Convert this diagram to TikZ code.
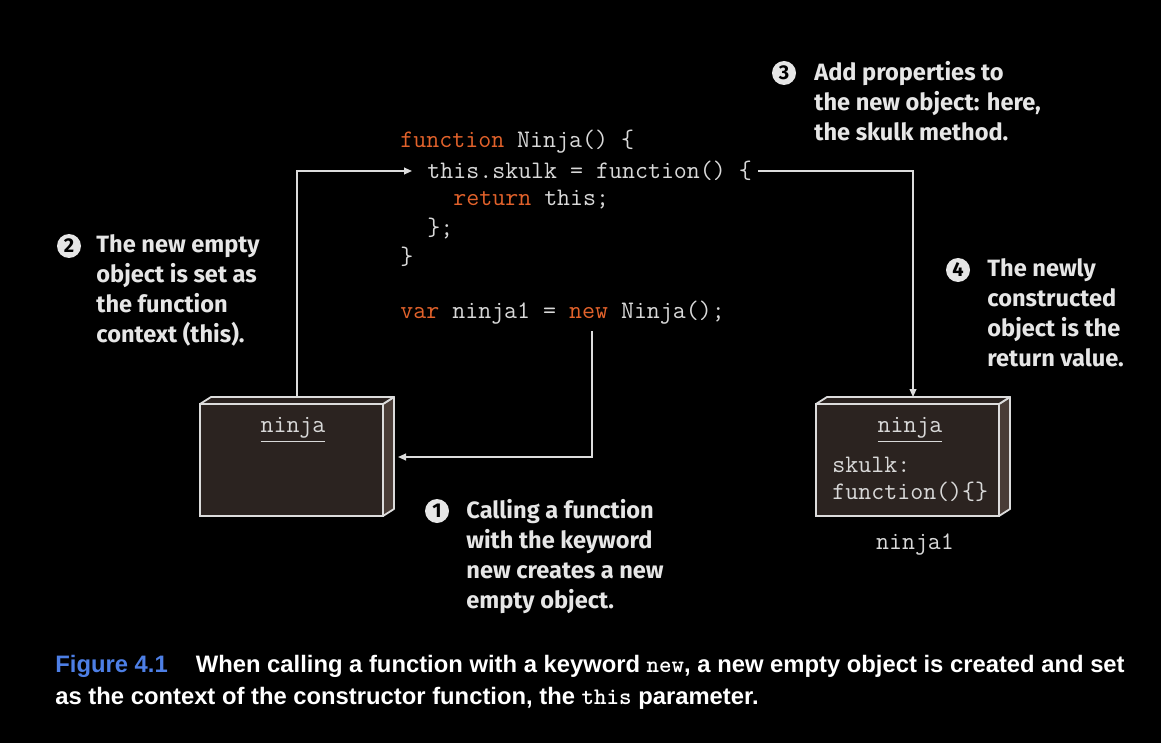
\documentclass[tikz,border=0pt]{standalone}
\usepackage{fontspec}
\usepackage{xcolor}
\usepackage{tikz}
\usetikzlibrary{arrows.meta, positioning, calc}
\newfontfamily\notefont{Fira Sans}
\newfontfamily\capfont{Liberation Sans}
\definecolor{ninjacode}{HTML}{D9D9D9}
\definecolor{ninjakey}{HTML}{E2622B}
\definecolor{ninjaface}{HTML}{2B2320}
\definecolor{ninjaside}{HTML}{4A3D37}
\definecolor{ninjaline}{HTML}{DCDCDC}
\definecolor{ninjanote}{HTML}{E6E6E6}
\definecolor{ninjablue}{HTML}{4D7FE6}
\newcommand{\kw}[1]{\textcolor{ninjakey}{#1}}

\begin{document}
\begin{tikzpicture}[x=0.5pt, y=-0.5pt,
    code/.style={anchor=west, inner sep=0pt, text=ninjacode, font=\ttfamily\fontsize{12.6}{15}\selectfont},
    objbox/.style={draw=ninjaline, fill=ninjaface, line width=0.9pt, minimum width=91.5pt, minimum height=56pt, inner sep=0pt, outer sep=0pt},
    face/.style={draw=ninjaline, line width=0.9pt, line join=round},
    badge/.style={circle, fill=ninjanote, minimum size=12pt, inner sep=0pt, font=\notefont\bfseries\fontsize{10}{10}\selectfont, text=black},
    note/.style={anchor=north west, inner sep=0pt, align=left, text=ninjanote, font=\notefont\bfseries\fontsize{11.8}{15}\selectfont},
    arrow/.style={-{Triangle[length=4pt, width=3.4pt]}, draw=ninjaline, line width=0.75pt}
]
    % Background and frame
    \fill[black] (0,0) rectangle (1161,743);
    \useasboundingbox (0,0) rectangle (1161,743);

    % Code
    \node[code] (l1) at (400,142) {\kw{function} Ninja() \{};
    \node[code] (l2) at (427,171) {this.skulk = function() \{};
    \node[code] (l3) at (453,200) {\kw{return} this;};
    \node[code] (l4) at (427,229) {\};};
    \node[code] (l5) at (400,257) {\}};
    \node[code] (l6) at (400,313) {\kw{var} ninja1 = \kw{new} Ninja();};
    \coordinate (newcall) at (592,331);

    % Objects
    \node[objbox] (objA) at (291.5,460) {};
    \node[objbox] (objB) at (907.5,460) {};
    \foreach \obj in {objA, objB} {
        \filldraw[face, fill=ninjaside] (\obj.north east) -- ++(11,-7) -- ([shift={(11,-7)}]\obj.south east) -- (\obj.south east) -- cycle;
        \filldraw[face, fill=ninjaface] (\obj.north west) -- ++(11,-7) -- ([shift={(11,-7)}]\obj.north east) -- (\obj.north east) -- cycle;
    }
    \node[code, anchor=center] (nameA) at (293,430) {\underline{ninja}};
    \node[code, anchor=center] (nameB) at (910,430) {\underline{ninja}};
    \node[code] (propB) at (832,465) {skulk:};
    \node[code] (funB) at (832,492) {function()\{\}};
    \node[code, anchor=center] (varB) at (915,545) {ninja1};

    % Arrows
    \draw[arrow] (newcall) |- ([shift={(15,-3)}]objA.east);
    \draw[arrow] ([shift={(5.5,-7)}]objA.north) |- ([xshift=-7.5pt]l2.west);
    \draw[arrow] ([xshift=3pt]l2.east) -| ([shift={(5.5,-7)}]objB.north);

    % Notes
    \node[badge] (b1) at (437,511) {1};
    \node[note] (n1) at (466,499) {Calling a function\\with the keyword\\new creates a new\\empty object.};
    \node[badge] (b2) at (69,246) {2};
    \node[note] (n2) at (96,234) {The new empty\\object is set as\\the function\\context (this).};
    \node[badge] (b3) at (784,73) {3};
    \node[note] (n3) at (814,61) {Add properties to\\the new object: here,\\the skulk method.};
    \node[badge] (b4) at (958,270) {4};
    \node[note] (n4) at (987,258) {The newly\\constructed\\object is the\\return value.};

    % Caption
    \node[anchor=north west, inner sep=0pt, align=left, text=white, font=\capfont\bfseries\fontsize{11.9}{16}\selectfont] (caption) at (55,655)
        {\textcolor{ninjablue}{Figure 4.1}\hspace{14pt}When calling a function with a keyword \texttt{new}, a new empty object is created and set\\as the context of the constructor function, the \texttt{this} parameter.};
\end{tikzpicture}
\end{document}
